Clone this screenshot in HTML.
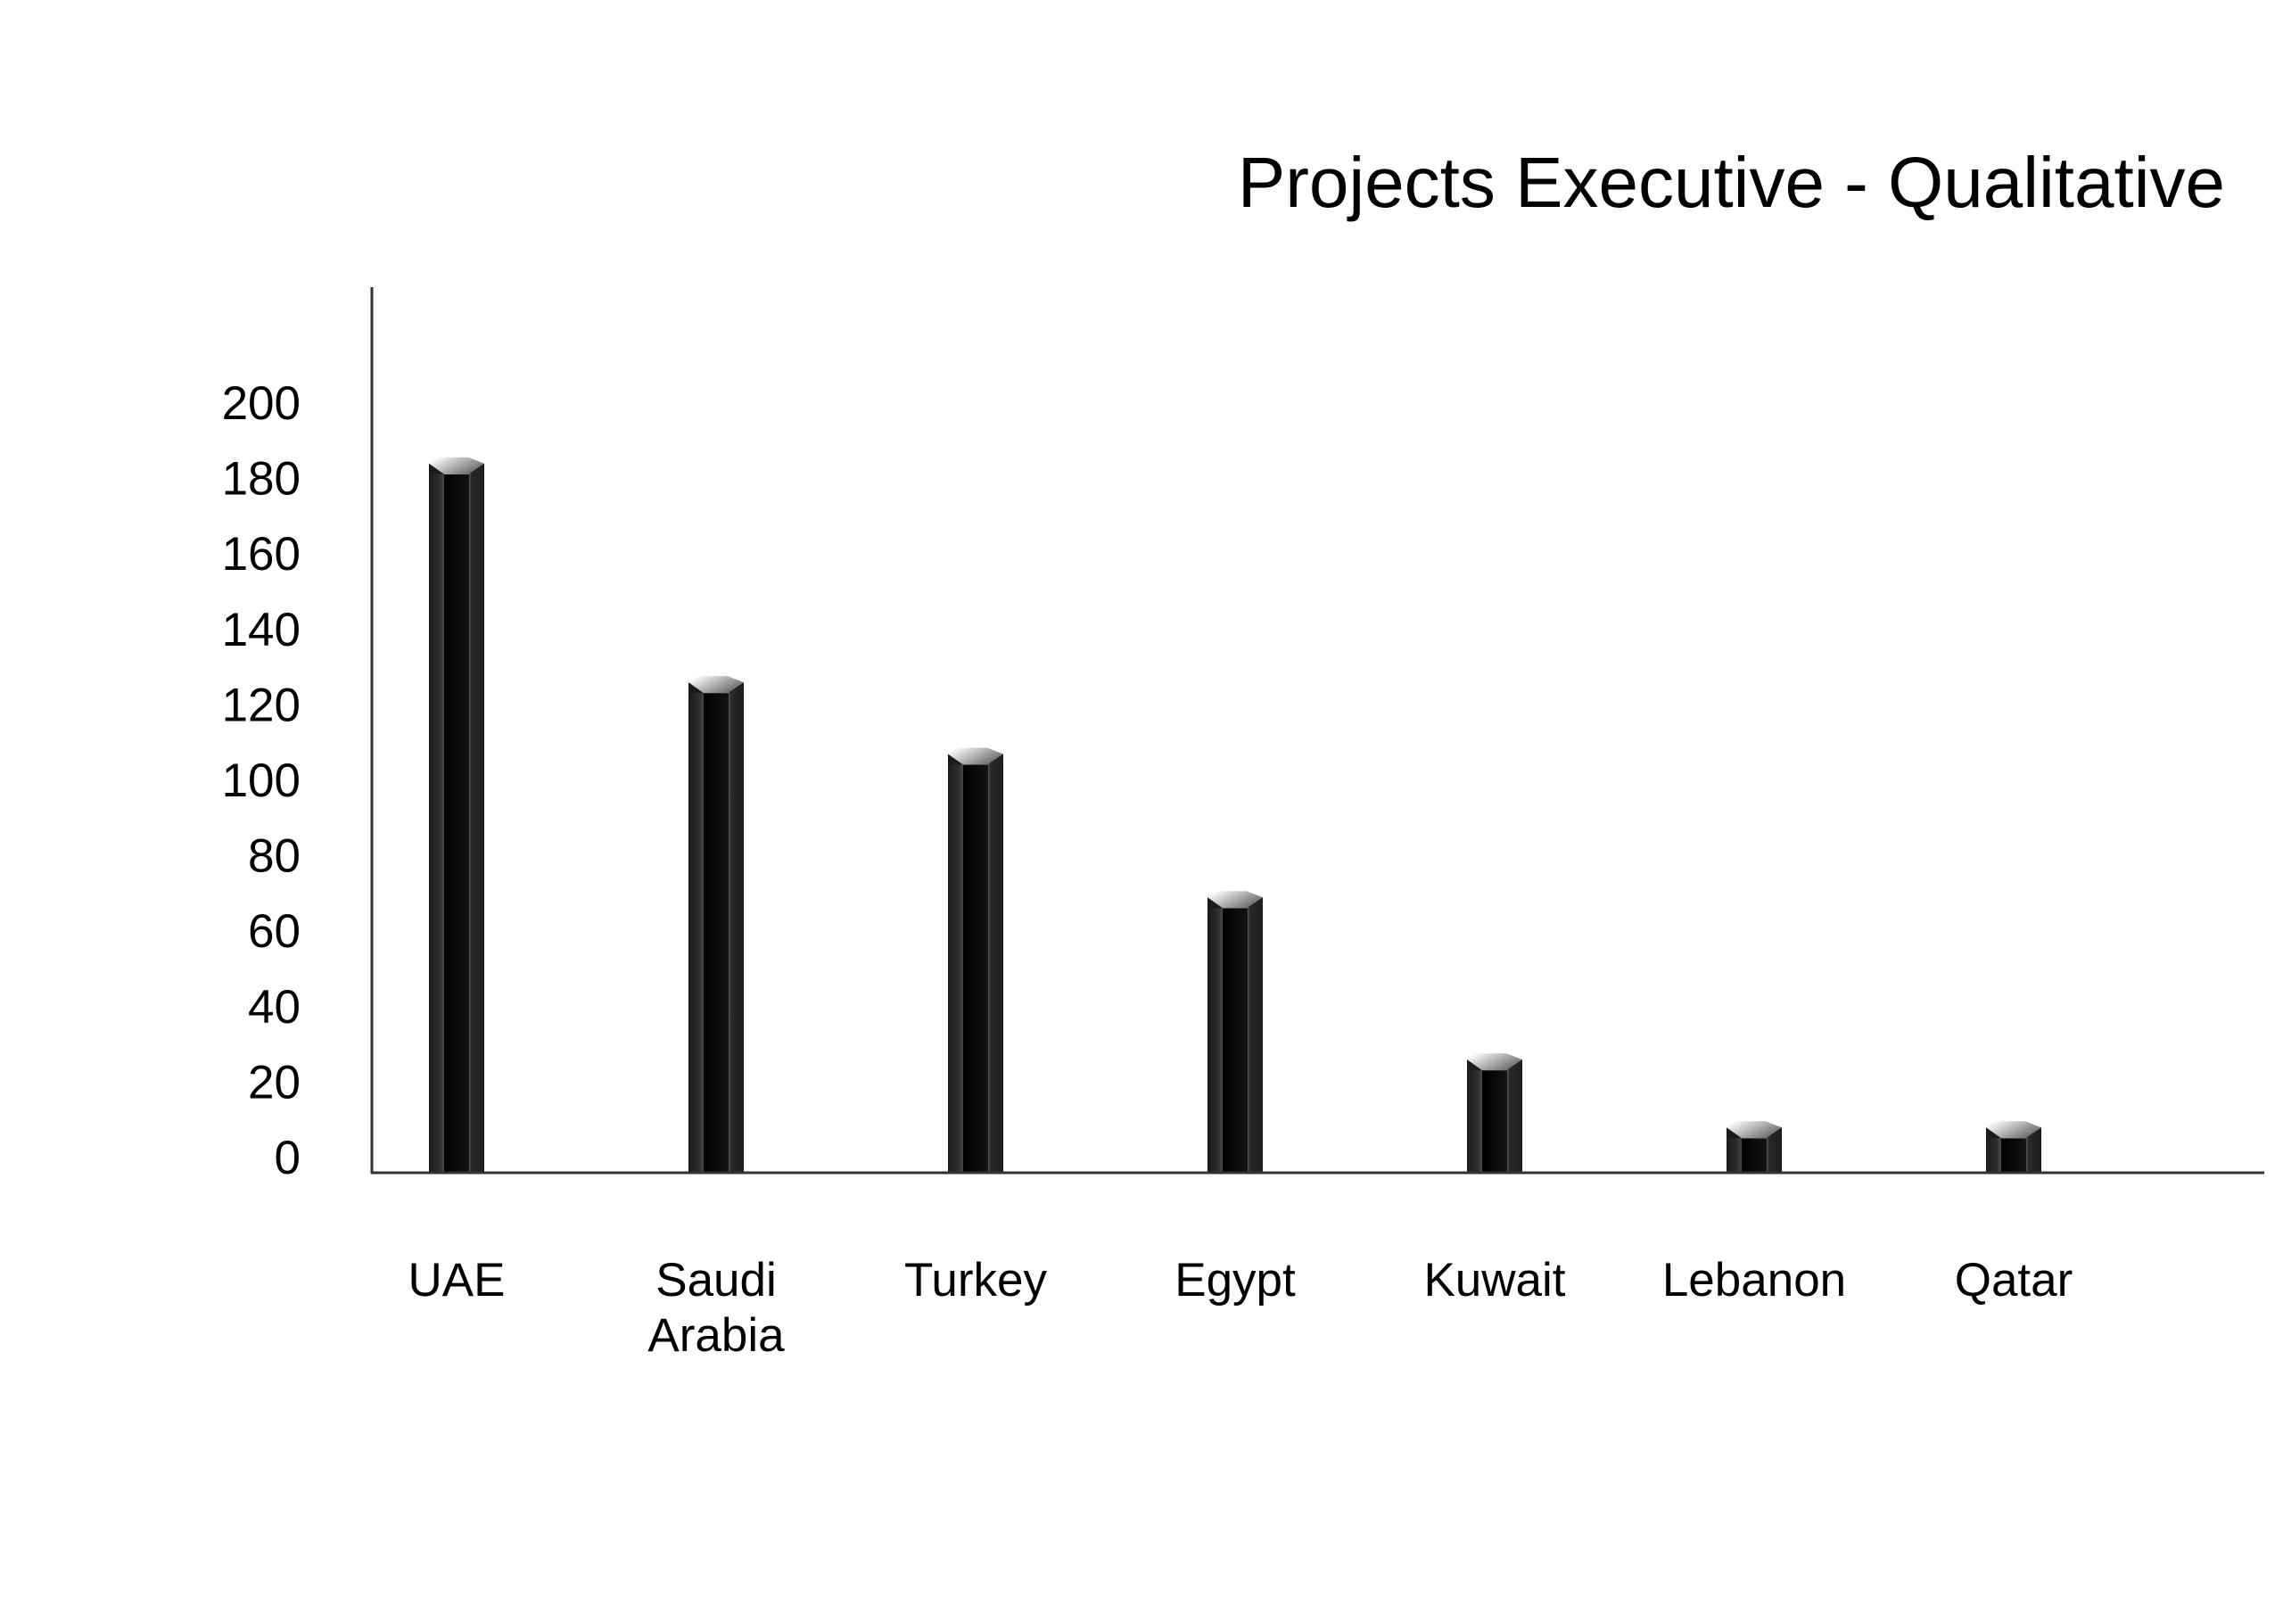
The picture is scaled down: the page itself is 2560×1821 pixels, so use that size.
<!DOCTYPE html>
<html><head><meta charset="utf-8"><style>
html,body{margin:0;padding:0;background:#fff;}
svg{display:block;font-family:"Liberation Sans",Arial,sans-serif;}
</style></head><body>
<svg id="chart" width="2560" height="1821" viewBox="0 0 2560 1821" xmlns="http://www.w3.org/2000/svg">
<defs>
<linearGradient id="sideL" x1="0" x2="1" y1="0" y2="0"><stop offset="0" stop-color="#1c1a1b"/><stop offset="0.7" stop-color="#2e2c2d"/><stop offset="1" stop-color="#4a4849"/></linearGradient>
<linearGradient id="front" x1="0" x2="1" y1="0" y2="0"><stop offset="0" stop-color="#000"/><stop offset="1" stop-color="#151314"/></linearGradient>
<linearGradient id="sideR" x1="0" x2="1" y1="0" y2="0"><stop offset="0" stop-color="#5a5859"/><stop offset="0.15" stop-color="#2a2829"/><stop offset="1" stop-color="#1e1c1d"/></linearGradient>
<linearGradient id="cap" x1="0" x2="1" y1="0" y2="0.6"><stop offset="0.1" stop-color="#ffffff"/><stop offset="1" stop-color="#6a6869"/></linearGradient>
</defs>
<text x="2495" y="232" text-anchor="end" font-size="80" fill="#000">Projects Executive - Qualitative</text>
<line x1="417" y1="322" x2="417" y2="1316" stroke="#333" stroke-width="3"/>
<g id="ticks"></g>
<g id="bars"></g>
<g id="cats"></g>
<line x1="416" y1="1315" x2="2539" y2="1315" stroke="#333" stroke-width="3"/>
</svg>
<script>
const categories = ["UAE","Saudi Arabia","Turkey","Egypt","Kuwait","Lebanon","Qatar"];
const values = [188,130,111,73,30,12,12];
const tickValues = [0,20,40,60,80,100,120,140,160,180,200];
const tickLabels = ["0","20","40","60","80","100","120","140","160","180","200"];

const NS="http://www.w3.org/2000/svg";
const baseY=1315, pxPer=4.23;
function yScale(v){return baseY - v*pxPer;}
const xStart=512, xStep=291;
function xScale(i){return xStart + i*xStep;}
function mk(tag,attrs,parent){const e=document.createElementNS(NS,tag);for(const k in attrs)e.setAttribute(k,attrs[k]);parent.appendChild(e);return e;}

const tg=document.getElementById('ticks');
tickValues.forEach((v,i)=>{
  const t=mk('text',{x:337,y:yScale(v)-18+19,'text-anchor':'end','font-size':53,fill:'#000'},tg);
  
  
  t.textContent=tickLabels[i];
});

const bg=document.getElementById('bars');
values.forEach((v,i)=>{
  const cx=xScale(i), x0=cx-31, x1=cx+31, st=yScale(v);
  const g=mk('g',{},bg);
  
  
  mk('rect',{x:x0,y:st,width:17,height:baseY-st,fill:'url(#sideL)'},g);
  mk('rect',{x:x0+17,y:st+12,width:28,height:baseY-st-12,fill:'url(#front)'},g);
  mk('rect',{x:x0+45,y:st,width:17,height:baseY-st,fill:'url(#sideR)'},g);
  mk('polygon',{points:`${x0},${st} ${x0+17},${st+12} ${x0},${st+12}`,fill:'#1c1a1b'},g);
  mk('polygon',{points:`${x0},${st} ${x0+9},${st-7} ${x0+44},${st-7} ${x1},${st} ${x0+44},${st+12} ${x0+17},${st+12}`,fill:'url(#cap)'},g);
});

const cg=document.getElementById('cats');
categories.forEach((c,i)=>{
  const t=mk('text',{x:xScale(i),y:1453,'text-anchor':'middle','font-size':53,fill:'#000'},cg);
  
  
  const parts=c==="Saudi Arabia"?["Saudi","Arabia"]:[c];
  parts.forEach((p,j)=>{const s=mk('tspan',{x:xScale(i),dy:j?62:0},t);s.textContent=p;});
});
</script>
</body></html>
